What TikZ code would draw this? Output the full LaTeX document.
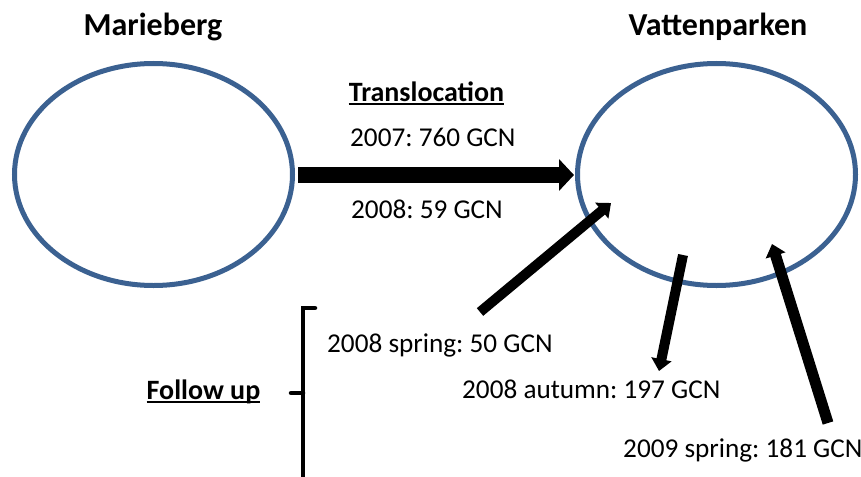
\documentclass[tikz,border=0pt]{standalone}
\usepackage{fontspec}
\setmainfont{Carlito}
\frenchspacing
\usetikzlibrary{shapes.geometric,arrows.meta}
\definecolor{ringblue}{HTML}{3B6191}
\tikzset{
  site/.style={draw=ringblue, line width=5pt, ellipse, inner sep=0pt,
    minimum width=278pt, minimum height=222pt},
  title/.style={font=\fontsize{32}{38}\selectfont\bfseries, inner sep=0pt, anchor=base},
  head/.style={font=\fontsize{28}{33}\selectfont\bfseries, inner sep=0pt, anchor=base},
  lbl/.style={font=\fontsize{27.2}{32}\selectfont, inner sep=0pt, anchor=base west},
  uline/.style={line width=1.4pt},
  bigarrow/.style={line width=16pt, -{Triangle[length=15pt,width=31pt]}},
  smallarrow/.style={line width=10pt, -{Triangle[length=12pt,width=20pt]}},
  bracket/.style={line width=4.5pt, line cap=round},
}
\begin{document}
\begin{tikzpicture}[x=1pt,y=-1pt]
\useasboundingbox (0,0) rectangle (861,476);

% sites
\node[site] (mar) at (153.5,174.5) {};
\node[site] (vat) at (716.5,174.5) {};
\node[title] (martitle) at (153,36) {Marieberg};
\node[title] (vattitle) at (718,36) {Vattenparken};

% translocation
\node[head] (trans) at (426.5,101.5) {Translocation};
\draw[uline] ([yshift=-2.5pt]trans.base west) -- ([yshift=-2.5pt]trans.base east);
\node[lbl] (y2007) at (350,146) {2007: 760 GCN};
\node[lbl] (y2008) at (351,218) {2008: 59 GCN};
\coordinate (bigtail) at (298,175);
\coordinate (bighead) at (574,175);
\draw[bigarrow] (bigtail) -- (bighead);

% follow up
\node[head] (follow) at (203.5,399) {Follow up};
\draw[uline] ([yshift=-3pt]follow.base west) -- ([yshift=-3pt]follow.base east);
\coordinate (brtop) at (315,308);
\coordinate (brtopc) at (303,308);
\coordinate (brmid) at (303,393);
\coordinate (brtick) at (291,393);
\coordinate (brbot) at (303,480);
\draw[bracket] (brtop) -- (brtopc) -- (brbot);
\draw[bracket] (brtick) -- (brmid);

\node[lbl] (sp08) at (327,352) {2008 spring: 50 GCN};
\node[lbl] (au08) at (462,398) {2008 autumn: 197 GCN};
\node[lbl] (sp09) at (623,457) {2009 spring: 181 GCN};

\coordinate (a2tail) at (480,312);
\coordinate (a2head) at (611,203);
\coordinate (a3tail) at (683,255);
\coordinate (a3head) at (659,371);
\coordinate (a4tail) at (828,423);
\coordinate (a4head) at (772,244);
\draw[smallarrow] (a2tail) -- (a2head);
\draw[smallarrow] (a3tail) -- (a3head);
\draw[smallarrow, line width=11pt] (a4tail) -- (a4head);
\end{tikzpicture}
\end{document}
